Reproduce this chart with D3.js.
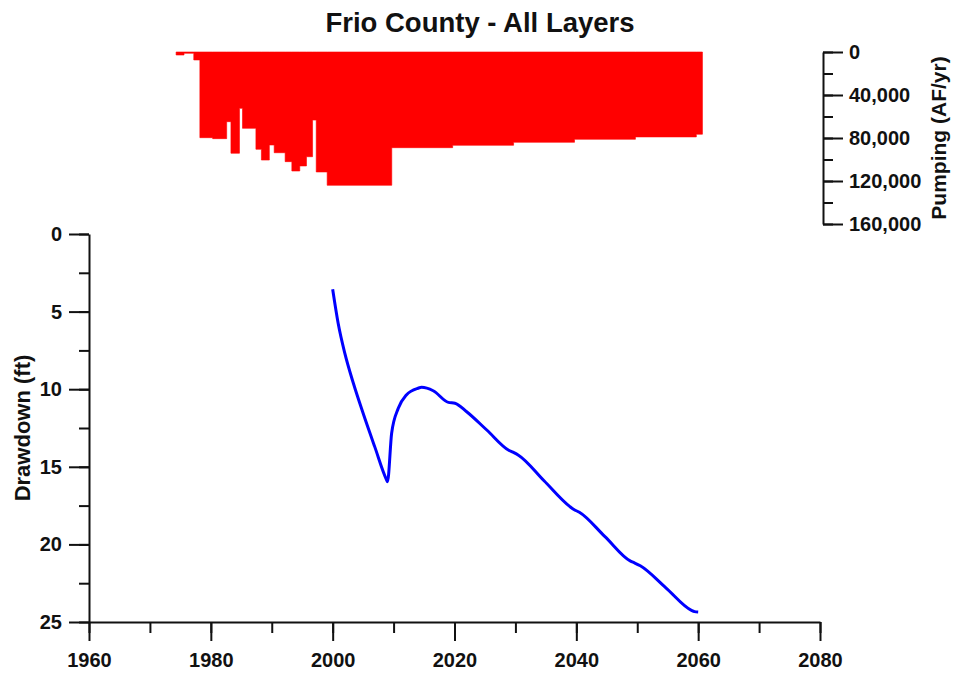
<!DOCTYPE html>
<html>
<head>
<meta charset="utf-8">
<script src="https://cdn.jsdelivr.net/npm/d3@7"></script>
<style>
  html, body { margin: 0; padding: 0; background: #fff; }
  svg { display: block; }
  text { font-family: "Liberation Sans", Arial, sans-serif; font-weight: bold; fill: #111; }
</style>
</head>
<body>
<svg id="chart" width="953" height="675"></svg>
<script>
// ---------- DATA ----------
const chartTitle = "Frio County - All Layers";
const xTickYears = [1960, 1980, 2000, 2020, 2040, 2060, 2080];
const drawdownTicks = [0, 5, 10, 15, 20, 25];
const pumpingTicks = [0, 40000, 80000, 120000, 160000];

// Drawdown (ft) – blue line
const drawdownYears  = [2000.0, 2000.9, 2002.0, 2003.4, 2005.0, 2006.9, 2008.86, 2009.0, 2009.68, 2010.77, 2012.1, 2014.0, 2014.6, 2016.5, 2019.0, 2020.07, 2022.0, 2025.3, 2028.9, 2029.6, 2030.5, 2034.7, 2038.9, 2039.6, 2040.5, 2044.7, 2048.9, 2049.6, 2050.5, 2054.7, 2058.9, 2059.4, 2060.0];
const drawdownValues = [3.56, 5.75, 7.69, 9.62, 11.55, 13.7, 15.85, 15.96, 12.84, 11.23, 10.37, 9.94, 9.88, 10.1, 10.85, 10.9, 11.45, 12.63, 13.93, 14.06, 14.25, 15.9, 17.55, 17.75, 17.93, 19.5, 21.08, 21.2, 21.38, 22.8, 24.25, 24.33, 24.36];

// Pumping (AF/yr) – red steps; each value holds from its start year to the next
const pumpingStartYears = [1974.3, 1975.6, 1977.2, 1978.2, 1980.3, 1982.6, 1983.3, 1984.7, 1985.2, 1987.4, 1988.3, 1989.6, 1990.4, 1992.2, 1993.3, 1994.6, 1995.7, 1996.7, 1997.3, 1999.1, 2009.7, 2019.7, 2029.7, 2039.7, 2049.7, 2059.7];
const pumpingValues     = [2800, 1200, 7400, 79700, 80600, 64800, 94200, 52400, 71000, 90500, 100500, 86500, 93700, 102000, 110700, 106000, 97400, 63300, 111600, 124000, 89000, 86800, 84000, 81200, 79000, 76500];
const pumpingEndYear = 2060.7;

// ---------- CHART ----------
const svg = d3.select("#chart");
const font = "\"Liberation Sans\", Arial, sans-serif";

const x = d3.scaleLinear().domain([1960, 2080]).range([89, 820]);
const yDraw = d3.scaleLinear().domain([0, 25]).range([234, 622]);
const yPump = d3.scaleLinear().domain([0, 160000]).range([52, 224]);

// title
svg.append("text")
  .attr("x", 480).attr("y", 32)
  .attr("text-anchor", "middle")
  .style("font-size", "27.5px")
  .text(chartTitle);

// pumping step area
const pumpPts = pumpingStartYears.map((yr, i) => ({ year: yr, v: pumpingValues[i] }));
pumpPts.push({ year: pumpingEndYear, v: pumpingValues[pumpingValues.length - 1] });
const area = d3.area()
  .x(d => x(d.year))
  .y0(yPump(0))
  .y1(d => yPump(d.v))
  .curve(d3.curveStepAfter);
svg.append("path")
  .datum(pumpPts)
  .attr("d", area)
  .attr("fill", "#ff0000")
  .attr("stroke", "#ff0000")
  .attr("stroke-width", 0.6);

// drawdown line
const linePts = drawdownYears.map((yr, i) => ({ year: yr, v: drawdownValues[i] }));
const line = d3.line()
  .x(d => x(d.year))
  .y(d => yDraw(d.v))
  .curve(d3.curveMonotoneX);
svg.append("path")
  .datum(linePts)
  .attr("d", line)
  .attr("fill", "none")
  .attr("stroke", "#0000ff")
  .attr("stroke-width", 3)
  .attr("stroke-linejoin", "round");

function styleAxis(g) {
  g.selectAll("path.domain").attr("stroke", "#111").attr("stroke-width", 2);
  g.selectAll(".tick line").attr("stroke", "#111").attr("stroke-width", 2);
  g.selectAll("text").style("font-family", font).style("font-weight", "bold")
    .style("font-size", "20px").attr("fill", "#111");
}

// bottom axis
const gx = svg.append("g").attr("transform", `translate(0,${yDraw(25)})`);
gx.call(d3.axisBottom(x).tickValues(d3.range(1960, 2081, 10)).tickSize(11).tickSizeOuter(0).tickFormat(""));
gx.append("g").call(d3.axisBottom(x).tickValues(xTickYears).tickSize(19).tickSizeOuter(0).tickFormat(d3.format("d")))
  .call(g => g.select(".domain").remove())
  .selectAll("text").attr("dy", 0).attr("y", 45);
styleAxis(gx);

// left axis
const gy = svg.append("g").attr("transform", `translate(${x(1960)},0)`);
gy.call(d3.axisLeft(yDraw).tickValues(d3.range(0, 25.01, 2.5)).tickSize(10).tickSizeOuter(0).tickFormat(""));
gy.append("g").call(d3.axisLeft(yDraw).tickValues(drawdownTicks).tickSize(20).tickSizeOuter(0).tickFormat(d3.format("d")))
  .call(g => g.select(".domain").remove())
  .selectAll("text").attr("x", -27);
styleAxis(gy);

// right axis (pumping)
const gr = svg.append("g").attr("transform", "translate(823,0)");
gr.call(d3.axisRight(yPump).tickValues(d3.range(0, 160001, 20000)).tickSize(10).tickSizeOuter(0).tickFormat(""));
gr.append("g").call(d3.axisRight(yPump).tickValues(pumpingTicks).tickSize(20).tickSizeOuter(0).tickFormat(d3.format(",")))
  .call(g => g.select(".domain").remove())
  .selectAll("text").attr("x", 26);
styleAxis(gr);

// axis titles
svg.append("text")
  .attr("transform", `translate(30,${(yDraw(0) + yDraw(25)) / 2}) rotate(-90)`)
  .attr("text-anchor", "middle")
  .style("font-size", "22px")
  .text("Drawdown (ft)");

svg.append("text")
  .attr("transform", `translate(946,${(yPump(0) + yPump(160000)) / 2}) rotate(-90)`)
  .attr("text-anchor", "middle")
  .style("font-size", "21px")
  .text("Pumping (AF/yr)");
</script>
</body>
</html>
